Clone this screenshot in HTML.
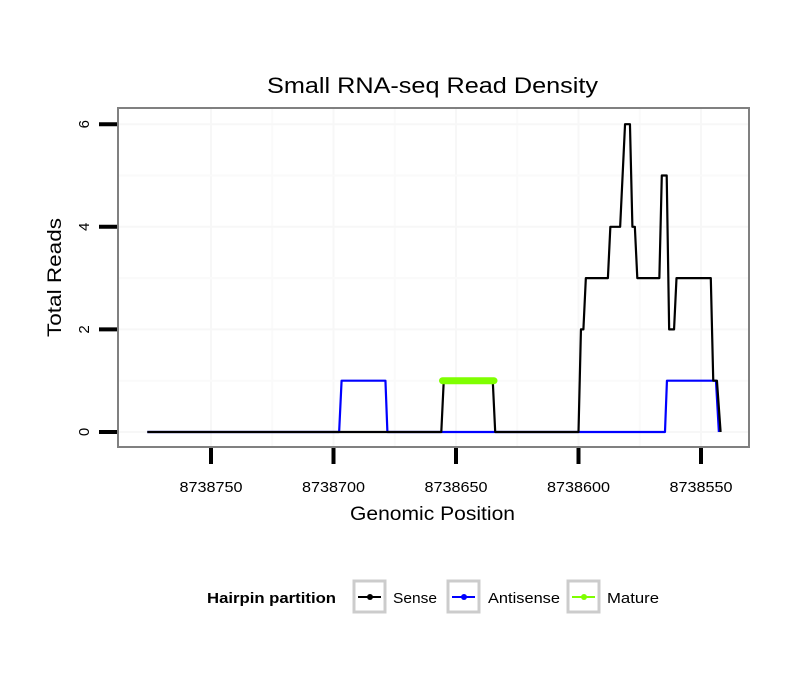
<!DOCTYPE html>
<html><head><meta charset="utf-8"><style>
body{margin:0;background:#fff}
svg text{font-family:"Liberation Sans",sans-serif}
</style></head><body>
<svg width="810" height="690" xmlns="http://www.w3.org/2000/svg">
<rect width="810" height="690" fill="#fff"/>
<text x="267" y="93" font-size="22" textLength="331" lengthAdjust="spacingAndGlyphs">Small RNA-seq Read Density</text>
<g id="grid"></g>
<g id="series"></g>
<rect x="118" y="108" width="631" height="339" fill="none" stroke="#808080" stroke-width="2"/>
<g id="axes"></g>
<text x="350" y="520" font-size="19" textLength="165" lengthAdjust="spacingAndGlyphs">Genomic Position</text>
<text transform="translate(61,337) rotate(-90)" font-size="19" textLength="119" lengthAdjust="spacingAndGlyphs">Total Reads</text>
<g>
<text x="207" y="603" font-size="15" font-weight="bold" textLength="129" lengthAdjust="spacingAndGlyphs">Hairpin partition</text>
<g>
<rect x="354" y="581" width="31" height="31" fill="#fff" stroke="#ccc" stroke-width="3"/>
<line x1="358" y1="597" x2="381" y2="597" stroke="#000" stroke-width="2"/><circle cx="370" cy="597" r="3" fill="#000"/>
<text x="393" y="603" font-size="15" textLength="44" lengthAdjust="spacingAndGlyphs">Sense</text></g>
<g>
<rect x="448" y="581" width="31" height="31" fill="#fff" stroke="#ccc" stroke-width="3"/>
<line x1="452" y1="597" x2="475" y2="597" stroke="#00f" stroke-width="2"/><circle cx="464" cy="597" r="3" fill="#00f"/>
<text x="488" y="603" font-size="15" textLength="72" lengthAdjust="spacingAndGlyphs">Antisense</text></g>
<g>
<rect x="568" y="581" width="31" height="31" fill="#fff" stroke="#ccc" stroke-width="3"/>
<line x1="572" y1="597" x2="595" y2="597" stroke="#7fff00" stroke-width="2"/><circle cx="584" cy="597" r="3" fill="#7fff00"/>
<text x="607" y="603" font-size="15" textLength="52" lengthAdjust="spacingAndGlyphs">Mature</text></g>
</g>
</svg>
<script>
const xTicks=[8738750,8738700,8738650,8738600,8738550];
const yTicks=[0,2,4,6];
const senseX=[8738776,8738656,8738655,8738635,8738634,8738600,8738599,8738598,8738597,8738588,8738587,8738583,8738581,8738579,8738578,8738577,8738576,8738567,8738566,8738564,8738563,8738561,8738560,8738546,8738545,8738543.5,8738542];
const senseY=[0,0,1,1,0,0,2,2,3,3,4,4,6,6,4,4,3,3,5,5,2,2,3,3,1,1,0];
const antiX=[8738776,8738697.7,8738696.7,8738678.8,8738678,8738564.7,8738563.9,8738543.9,8738542.7];
const antiY=[0,0,1,1,0,0,1,1,0];
const matureX=[8738655.5,8738634.5];
const matureY=[1,1];
const NS="http://www.w3.org/2000/svg";
const xs=v=>211+(8738750-v)*2.45;
const ys=v=>432-v*51.3;
function mk(t,a,p){const e=document.createElementNS(NS,t);for(const k in a)e.setAttribute(k,a[k]);p.appendChild(e);return e;}
const grid=document.getElementById('grid'),axes=document.getElementById('axes'),ser=document.getElementById('series');
for(let i=0;i<xTicks.length;i++){
 const x=xs(xTicks[i]);
 const g=mk('line',{x1:x,x2:x,y1:108,y2:447,stroke:'#f7f7f7','stroke-width':2},grid);
 
 
 if(i<xTicks.length-1){const xm=xs((xTicks[i]+xTicks[i+1])/2);
 const m=mk('line',{x1:xm,x2:xm,y1:108,y2:447,stroke:'#fafafa','stroke-width':2},grid);
 
 }
}
for(let i=0;i<yTicks.length;i++){
 const y=ys(yTicks[i]);
 const g=mk('line',{x1:118,x2:749,y1:y,y2:y,stroke:'#f7f7f7','stroke-width':2},grid);
 
 
 if(i<yTicks.length-1){const ym=ys((yTicks[i]+yTicks[i+1])/2);
 const m=mk('line',{x1:118,x2:749,y1:ym,y2:ym,stroke:'#fafafa','stroke-width':2},grid);
 
 }
}
xTicks.forEach(v=>{const x=xs(v);
 const t=mk('line',{x1:x,x2:x,y1:448,y2:464,stroke:'#000','stroke-width':4},axes);
 
 
 const l=mk('text',{x:x,y:492,'font-size':15,'text-anchor':'middle',textLength:63,lengthAdjust:'spacingAndGlyphs'},axes);l.textContent=v;
 
 
});
yTicks.forEach(v=>{const y=ys(v);
 const t=mk('line',{x1:99,x2:117,y1:y,y2:y,stroke:'#000','stroke-width':4},axes);
 
 
 const l=mk('text',{transform:`translate(89,${y}) rotate(-90)`,'font-size':15,'text-anchor':'middle'},axes);l.textContent=v;
 
 
});
function line(X,Y,c,w,name,cap){
 const p=mk('polyline',{points:X.map((x,i)=>xs(x)+','+ys(Y[i])).join(' '),fill:'none',stroke:c,'stroke-width':w,'stroke-linejoin':'round','stroke-linecap':cap||'butt'},ser);
 
 
}
line(antiX,antiY,'#0000ff',2.2,'antisense-line');
line(senseX,senseY,'#000000',2.2,'sense-line');
line(matureX,matureY,'#7fff00',7,'mature-line','round');
</script>
</body></html>
